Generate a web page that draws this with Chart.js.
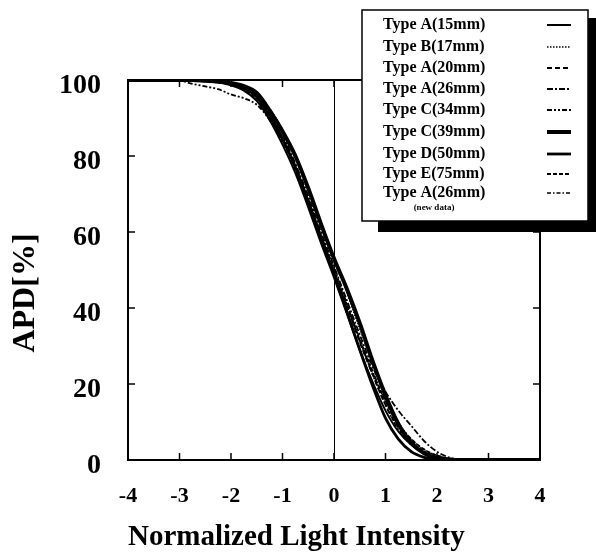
<!DOCTYPE html>
<html><head><meta charset="utf-8">
<script src="https://cdn.jsdelivr.net/npm/chart.js@4/dist/chart.umd.min.js"></script>
<style>html,body{margin:0;padding:0;background:#fff;}#wrap{width:596px;height:556px;}</style>
</head><body><div id="wrap"><canvas id="c" width="596" height="556"></canvas></div>
<script>
// ---- data ----
const intensity = [-4,-3,-2.75,-2.5,-2.25,-2,-1.75,-1.5,-1.25,-1,-0.75,-0.5,-0.25,0,0.25,0.5,0.75,1,1.25,1.5,1.75,2,2.25,2.5,2.75,3,4];
const seriesLabels = ['Type A(15mm)','Type B(17mm)','Type A(20mm)','Type A(26mm)','Type C(34mm)','Type C(39mm)','Type D(50mm)','Type E(75mm)','Type A(26mm)'];
const seriesNotes = ['','','','','','','','','(new data)'];
const typeA15 = [100,100,100,99.8,99.4,98.6,97.2,94.5,89.5,83,75.5,66.5,57,48,38.5,29,20.5,13,7.5,4,1.8,0.6,0.2,0,0,0,0];
const typeB17 = [100,100,100,99.9,99.7,99.3,98.5,96.8,92.5,87,80.5,72,62.5,53.5,44,34.5,25.5,17,10,5.5,2.7,1.2,0.4,0.1,0,0,0];
const typeA20 = [100,100,100,99.8,99.5,98.9,97.8,95.5,90.5,84.5,77,68,58.5,49.5,40.5,31,22.5,14.5,8.5,4.3,2,0.8,0.2,0,0,0,0];
const typeA26 = [100,100,100,99.9,99.6,99.1,98.2,96.2,91.5,85.5,78,69.5,60,51,42,33,24.5,18,13,9,5,2.2,0.6,0,0,0,0];
const typeC34 = [100,99.8,99,98.3,97.6,96.2,95.2,93.5,89.5,84,77,68.5,59,50.5,41,31.5,22.5,14.5,8,4,1.8,0.6,0.1,0,0,0,0];
const typeC39 = [100,100,100,99.8,99.6,99.2,98.4,96.6,92,86.5,80,71.5,62,53,45,36,26,17,9.5,4.5,1.8,0.6,0.1,0,0,0,0];
const typeD50 = [100,100,100,99.8,99.5,99,97.8,95.5,90.5,84.5,77,68,58.5,49,39,29,19.5,11,5.5,2.2,0.7,0.1,0,0,0,0,0];
const typeE75 = [100,100,100,99.7,99.3,98.7,97.5,95,90,84,76.5,67.5,58,49.5,40.5,31.5,23,15.5,9.5,5.5,2.8,1.2,0.4,0.1,0,0,0];
const typeA26new = [100,100,100,99.8,99.5,98.9,97.9,95.8,91,85,77.5,68.5,59,50,41,32,23.5,15.5,9,5,2.4,1,0.3,0,0,0,0];
const xTicks = [-4,-3,-2,-1,0,1,2,3,4];
const yTicks = [0,20,40,60,80,100];

const seriesValues = [typeA15,typeB17,typeA20,typeA26,typeC34,typeC39,typeD50,typeE75,typeA26new];
const styles = [
  {w:2, dash:[]},
  {w:1.4, dash:[1.5,1.5]},
  {w:1.8, dash:[5,3]},
  {w:1.8, dash:[6,2,2,2]},
  {w:1.8, dash:[5,2,2,2,2,2]},
  {w:4, dash:[]},
  {w:2.8, dash:[]},
  {w:1.8, dash:[4,2]},
  {w:1.5, dash:[4,2,1.5,2]}
];
const SERIF = '"Liberation Serif","Times New Roman",serif';

const datasets = seriesValues.map((vals,i)=>({
  label: seriesLabels[i],
  data: intensity.map((x,j)=>({x:x,y:vals[j]})),
  borderColor:'#000',
  backgroundColor:'#000',
  borderWidth: styles[i].w,
  borderDash: styles[i].dash,
  pointRadius:0,
  fill:false,
  cubicInterpolationMode:'monotone'
}));

const decor = {
  id:'decor',
  beforeDatasetsDraw(chart){
    const {ctx, chartArea:a, scales:{x}} = chart;
    ctx.save();
    ctx.strokeStyle='#000'; ctx.lineWidth=1;
    const x0 = Math.round(x.getPixelForValue(0))+0.5;
    ctx.beginPath(); ctx.moveTo(x0,a.top); ctx.lineTo(x0,a.bottom); ctx.stroke();
    ctx.restore();
  },
  afterDraw(chart){
    const {ctx, chartArea:a, scales:{x,y}} = chart;
    ctx.save();
    ctx.strokeStyle='#000';
    ctx.lineWidth=1.5;
    ctx.beginPath();
    xTicks.forEach(v=>{ if(v===x.min||v===x.max) return; const p=x.getPixelForValue(v);
      ctx.moveTo(p,a.bottom); ctx.lineTo(p,a.bottom-7); ctx.moveTo(p,a.top); ctx.lineTo(p,a.top+7); });
    yTicks.forEach(v=>{ if(v===y.min||v===y.max) return; const p=y.getPixelForValue(v);
      ctx.moveTo(a.left,p); ctx.lineTo(a.left+7,p); ctx.moveTo(a.right,p); ctx.lineTo(a.right-7,p); });
    ctx.stroke();
    ctx.lineWidth=2;
    ctx.strokeRect(a.left,a.top,a.right-a.left,a.bottom-a.top);
    // y axis title
    ctx.fillStyle='#000';
    ctx.font='bold 32px '+SERIF;
    ctx.textAlign='center'; ctx.textBaseline='middle';
    ctx.translate(26,293); ctx.rotate(-Math.PI/2);
    ctx.fillText('APD[%]',0,0);
    ctx.restore();
    // legend box
    ctx.save();
    const bx=362, by=10, bw=226, bh=211;
    ctx.fillStyle='#000';
    ctx.fillRect(bx+16, by+9, bw-8, bh+2);
    ctx.fillRect(bx+bw, by+8, 8, bh+2);
    ctx.fillStyle='#fff';
    ctx.fillRect(bx,by,bw,bh);
    ctx.strokeStyle='#000'; ctx.lineWidth=1.5;
    ctx.strokeRect(bx,by,bw,bh);
    const rowsY=[25,47,68,89,110,132,154,174,193];
    chart.data.datasets.forEach((ds,i)=>{
      const ry=rowsY[i];
      ctx.fillStyle='#000';
      ctx.font='bold 16px '+SERIF;
      ctx.textAlign='left'; ctx.textBaseline='middle';
      ctx.fillText(ds.label,383,ry);
      if(seriesNotes[i]){
        ctx.font='bold 9px '+SERIF;
        ctx.textAlign='center';
        ctx.fillText(seriesNotes[i],434,208);
      }
      ctx.lineWidth=ds.borderWidth;
      ctx.setLineDash(ds.borderDash||[]);
      ctx.beginPath(); ctx.moveTo(547,ry); ctx.lineTo(571,ry); ctx.stroke();
      ctx.setLineDash([]);
    });
    ctx.restore();
  }
};

new Chart(document.getElementById('c'),{
  type:'line',
  data:{datasets},
  options:{
    responsive:false,
    animation:false,
    layout:{padding:{left:0,top:80,right:56,bottom:0}},
    plugins:{legend:{display:false},tooltip:{enabled:false}},
    scales:{
      x:{
        type:'linear', min:-4, max:4,
        afterFit(s){ s.height=96; },
        afterBuildTicks(s){ s.ticks = xTicks.map(v=>({value:v})); },
        grid:{display:false},
        border:{display:false},
        ticks:{color:'#000', padding:15, font:{family:SERIF, size:22, weight:'bold'}, maxRotation:0, autoSkip:false},
        title:{display:true, text:'Normalized Light Intensity', align:'start', color:'#000',
               font:{family:SERIF, size:29, weight:'bold'}, padding:{top:0,bottom:1}}
      },
      y:{
        min:0, max:100,
        afterFit(s){ s.width=128; },
        afterBuildTicks(s){ s.ticks = yTicks.map(v=>({value:v})); },
        grid:{display:false},
        border:{display:false},
        ticks:{color:'#000', padding:19, labelOffset:6, font:{family:SERIF, size:28, weight:'bold'}}
      }
    }
  },
  plugins:[decor]
});
</script></body></html>
